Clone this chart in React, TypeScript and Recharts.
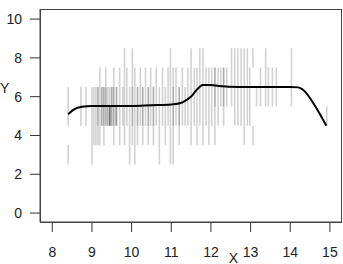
import React from 'react';
import {
  ComposedChart,
  Line,
  XAxis,
  YAxis,
  ReferenceLine,
} from 'recharts';

// vertical gray ranges (x, low, high)
const segX = [
  8.4, 8.4, 8.72, 8.85, 9.0, 9.05, 9.1, 9.15, 9.2, 9.25, 9.3, 9.35, 9.4, 9.45, 9.45, 9.5,
  9.55, 9.62, 9.7, 9.78, 9.82, 9.88, 9.95, 10.02, 10.08, 10.15, 10.22, 10.28, 10.35, 10.42,
  10.48, 10.55, 10.62, 10.7, 10.78, 10.85, 10.92, 10.98, 11.05, 11.12, 11.2, 11.28, 11.35,
  11.42, 11.5, 11.58, 11.65, 11.72, 11.8, 11.88, 11.95, 12.02, 12.1, 12.18, 12.25, 12.32,
  12.4, 12.52, 12.6, 12.68, 12.76, 12.84, 12.92, 12.98, 13.06, 13.06, 13.15, 13.25, 13.38,
  13.45, 13.55, 13.65, 14.03, 14.92,
  // repeated observations (darker overlap)
  9.3, 9.35, 9.4, 9.45, 9.45, 9.5, 9.55, 9.6, 9.25, 9.15, 9.62, 10.02, 10.15, 10.28,
  10.42, 10.55, 11.05, 11.2, 12.1, 12.32,
];
const segLo = [
  4.5, 2.5, 4.5, 4.5, 2.5, 3.5, 3.5, 3.5, 3.5, 4.5, 3.5, 4.5, 4.5, 4.5, 4.5, 4.5,
  3.5, 4.5, 3.5, 4.5, 3.5, 4.5, 2.5, 3.5, 2.5, 3.5, 4.5, 3.5, 4.5, 3.5,
  4.5, 3.5, 4.5, 2.5, 4.5, 3.5, 4.5, 2.5, 2.5, 4.5, 3.5, 4.5, 4.5,
  4.5, 3.5, 4.5, 3.5, 4.5, 3.5, 4.5, 3.5, 4.5, 3.5, 4.5, 5.5, 4.5,
  5.5, 5.5, 4.5, 4.5, 4.5, 3.5, 4.5, 4.5, 7.5, 3.5, 5.5, 5.5, 5.5,
  5.5, 5.5, 5.5, 5.5, 4.5,
  4.5, 4.5, 4.5, 4.5, 4.5, 4.5, 4.5, 4.5, 4.5, 4.5, 4.5, 4.5, 4.5, 4.5,
  4.5, 4.5, 4.5, 4.5, 5.5, 5.5,
];
const segHi = [
  6.5, 3.5, 6.5, 6.5, 6.5, 6.5, 6.5, 6.5, 7.5, 6.5, 6.5, 7.5, 6.5, 6.5, 5.5, 6.5,
  7.5, 6.5, 7.5, 6.5, 8.5, 7.5, 6.5, 8.5, 7.5, 6.5, 7.5, 6.5, 7.5, 6.5,
  7.5, 6.5, 7.5, 6.5, 7.5, 6.5, 7.5, 8.5, 7.5, 7.5, 6.5, 7.5, 6.5,
  7.5, 8.5, 7.5, 7.5, 8.5, 8.5, 7.5, 7.5, 7.5, 7.5, 7.5, 7.5, 7.5,
  7.5, 8.5, 8.5, 8.5, 8.5, 8.5, 8.5, 7.5, 8.5, 4.5, 6.5, 7.5, 8.5,
  7.5, 7.5, 7.5, 8.5, 5.5,
  6.5, 6.5, 5.5, 5.5, 5.5, 6.5, 6.5, 5.5, 6.5, 6.5, 6.5, 6.5, 6.5, 6.5,
  6.5, 6.5, 6.5, 6.5, 7.5, 7.5,
];

// smoothed curve
const fitX = [
  8.4, 8.55, 8.75, 9.0, 9.5, 10.0, 10.5, 11.0, 11.22, 11.38, 11.52, 11.66, 11.8, 12.0,
  12.2, 12.7, 13.5, 14.0, 14.2, 14.4, 14.57, 14.75, 14.91,
];
const fitY = [
  5.1, 5.35, 5.48, 5.52, 5.52, 5.52, 5.56, 5.6, 5.66, 5.82, 6.05, 6.4, 6.6, 6.6,
  6.55, 6.5, 6.5, 6.5, 6.48, 6.2, 5.7, 5.1, 4.5,
];

const xTicks = [8, 9, 10, 11, 12, 13, 14, 15];
const yTicks = [0, 2, 4, 6, 8, 10];

const X_DOMAIN: [number, number] = [7.69, 15.28];
const Y_DOMAIN: [number, number] = [-0.46, 10.52];

const fitData = fitX.map((x, i) => ({ x, y: fitY[i] }));

const W = 343;
const H = 264;
const MARGIN = { top: 9, right: 2, left: 0, bottom: 0 };
const Y_AXIS_W = 40;
const X_AXIS_H = 42;

const FONT = 'Liberation Sans, Arial, sans-serif';
const tickStyle = { fill: '#222', fontSize: 14, fontFamily: FONT };
const boxLine = { stroke: '#444', strokeWidth: 1 };

export default function App() {
  return (
    <div style={{ position: 'absolute', left: 0, top: 0, width: W, height: H, background: '#fff' }}>
      <ComposedChart width={W} height={H} data={fitData} margin={MARGIN}>
        <XAxis
          dataKey="x"
          type="number"
          domain={X_DOMAIN}
          ticks={xTicks}
          allowDataOverflow
          height={X_AXIS_H}
          axisLine={boxLine}
          tickSize={10}
          tickMargin={15}
          tickLine={{ stroke: '#333' }}
          tick={tickStyle}
          label={{
            value: 'X',
            position: 'insideBottom',
            offset: 1,
            dx: 43,
            style: { fill: '#222', fontSize: 14, fontFamily: FONT },
          }}
        />
        <YAxis
          type="number"
          domain={Y_DOMAIN}
          ticks={yTicks}
          allowDataOverflow
          width={Y_AXIS_W}
          axisLine={boxLine}
          tickSize={10}
          tickMargin={8}
          tickLine={{ stroke: '#333' }}
          tick={tickStyle}
          label={{
            value: 'Y',
            position: 'insideLeft',
            offset: 0,
            dy: -27,
            style: { fill: '#222', fontSize: 14, fontFamily: FONT },
          }}
        />
        {segX.map((x, i) => (
          <ReferenceLine
            key={i}
            segment={[
              { x, y: segLo[i] },
              { x, y: segHi[i] },
            ]}
            stroke="#000"
            strokeOpacity={0.18}
            strokeWidth={1.6}
          />
        ))}
        <Line
          dataKey="y"
          type="monotone"
          stroke="#000"
          strokeWidth={2}
          dot={false}
          isAnimationActive={false}
        />
      </ComposedChart>
      {/* frame around the plotting area, from the same layout constants */}
      <div
        style={{
          position: 'absolute',
          left: MARGIN.left + Y_AXIS_W,
          top: MARGIN.top,
          width: W - MARGIN.left - MARGIN.right - Y_AXIS_W + 1,
          height: H - MARGIN.top - MARGIN.bottom - X_AXIS_H + 1,
          border: '1px solid #444',
          boxSizing: 'border-box',
          pointerEvents: 'none',
        }}
      />
    </div>
  );
}
